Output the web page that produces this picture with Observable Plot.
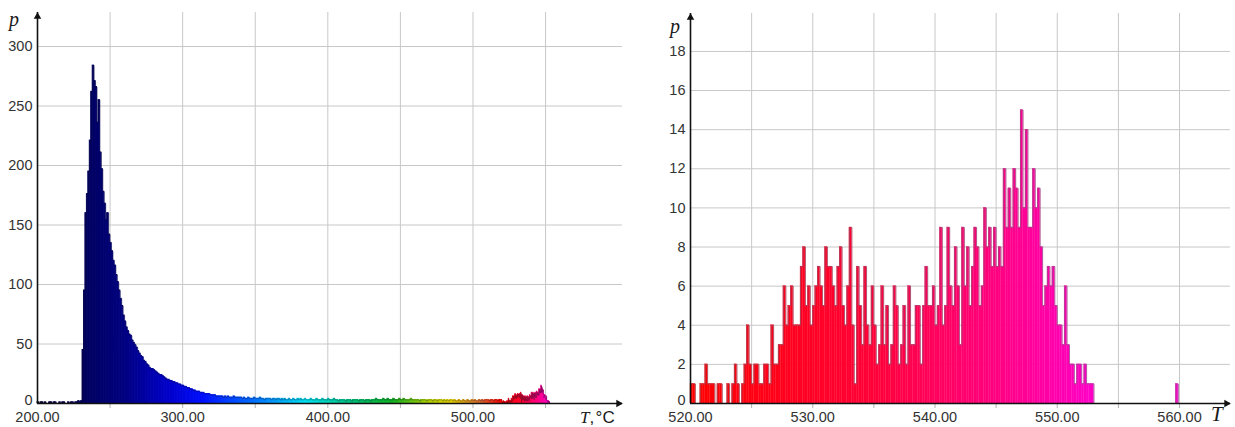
<!DOCTYPE html>
<html><head><meta charset="utf-8">
<script src="https://cdn.jsdelivr.net/npm/d3@7"></script>
<script src="https://cdn.jsdelivr.net/npm/@observablehq/plot@0.6"></script>
<style>
body{margin:0;background:#fff;}
#wrap{position:relative;width:1235px;height:427px;overflow:hidden;font-family:"Liberation Sans",Arial,sans-serif;background:#fff;}
#left{position:absolute;left:0;top:0;}
#right{position:absolute;left:640px;top:0;}
#frame{position:absolute;left:657px;top:9px;width:600px;height:440px;border-top:2px solid #ececec;border-left:2px solid #ececec;}
.lab{position:absolute;color:#1a1a1a;white-space:nowrap;line-height:1;}
.it{font-family:"Liberation Serif","DejaVu Serif",serif;font-style:italic;}
</style></head><body>
<div id="wrap">
<div id="frame"></div>
<div id="left"></div>
<div id="right"></div>
<div class="lab it" style="left:9px;top:9px;font-size:20px;">p</div>
<div class="lab it" style="left:670px;top:16px;font-size:20px;">p</div>
<div class="lab" style="left:580px;top:409px;font-size:17px;"><span class="it">T</span>,&#8202;°C</div>
<div class="lab it" style="left:1211px;top:404px;font-size:21px;">T</div>
</div>
<script>
// ---------- data ----------
// left panel: 1-degree bins starting at 200 °C
const LEFT_T0 = 200, LEFT_BIN = 1;
const leftPre = [1,0,1,1,0,1,0,0,1,1,0,1,1,0,0,1,0,1,1,0,0,1,0,1,1,0,1,1,2,1]; // 200-229
const leftPeak = [ // 230-299
  2,45,95,160,176,195,221,262,284,271,
  266,236,255,211,197,178,168,154,160,142,
  135,128,120,116,108,102,95,88,82,74,
  69,64,61,58,57,53,51,49,47,44,
  42,40,39,36,35,33,32,30,29,29,
  28,27,26,25,24,24,23,22,21,20,
  20,19,19,18,18,17,17,16,16,15];
const leftTail = [ // 300-519
  15,14,14,13,13,12,12,11,11,10,
  10,10,9,9,9,8,8,8,8,7,
  7,7,7,6,6,6,6,6,5,6,
  5,6,5,5,5,6,5,5,5,5,
  5,4,5,4,4,5,4,4,4,5,
  4,4,4,5,4,4,3,4,4,4,
  4,3,4,4,3,4,4,3,4,3,
  4,3,3,4,3,3,4,3,3,4,
  3,4,3,3,4,3,3,3,4,3,
  3,3,4,3,3,3,4,3,3,3,
  4,3,3,3,4,3,3,2,3,3,
  3,3,2,3,3,3,2,3,3,3,
  3,2,3,3,3,2,3,3,3,2,
  3,3,3,4,3,3,3,3,4,3,
  3,4,3,3,3,4,3,3,3,4,
  3,3,4,3,3,3,3,4,3,3,
  3,3,3,2,3,3,3,3,2,3,
  3,3,2,3,3,2,3,3,3,2,
  3,2,3,2,3,3,2,3,2,2,
  3,2,2,3,2,2,3,2,2,3,
  2,3,2,2,3,2,3,2,3,3,
  3,2,3,3,2,3,3,2,3,3];
// zoomed range: 0.2-degree bins from 520 °C
const ZOOM_T0 = 520, ZOOM_BIN = 0.2;
const zoomCounts = [
  1,1,0,0,1,  1,2,1,1,1,  0,1,1,0,0,  1,0,1,2,1,  0,1,2,4,2,
  1,2,2,1,1,  2,2,1,4,2,  2,3,3,6,4,  5,6,4,4,4,  7,8,5,6,4,
  5,6,7,6,5,  8,7,7,6,5,  7,8,5,4,6,  9,4,1,7,5,  3,7,4,3,6,
  4,2,3,6,3,  5,2,3,6,5,  2,3,5,2,6,  3,3,5,5,2,  5,7,5,5,6,
  4,5,9,4,5,  9,6,5,8,6,  3,9,6,8,5,  7,9,8,5,6,  10,8,9,7,9,
  7,8,7,12,9, 11,9,12,11,9, 15,10,14,9,9, 12,10,11,8,5, 6,7,6,7,5,
  4,4,3,6,3,  2,2,1,2,2,  1,2,1,1,1];
const outlierT = [559.7];
const outlierCounts = [1];

// axes / ticks
const leftX = [200, 603], leftY = [0, 328.6];
const leftGridX = [250, 300, 350, 400, 450, 500, 550];
const leftLabelX = [200, 300, 400, 500];
const leftGridY = [50, 100, 150, 200, 250, 300];
const leftLabelY = [0, 50, 100, 150, 200, 250, 300];
const rightX = [520, 564.17], rightY = [0, 19.94];
const rightGridX = [525, 530, 535, 540, 545, 550, 555, 560];
const rightLabelX = [520, 530, 540, 550, 560];
const rightGridY = [2, 4, 6, 8, 10, 12, 14, 16, 18];
const rightLabelY = [0, 2, 4, 6, 8, 10, 12, 14, 16, 18];

// temperature colour map
const COLOR_T = [200, 230, 260, 290, 315, 350, 385, 420, 445, 470, 485, 505, 520, 535, 545, 553];
const COLOR_HEX = ["#000030","#00005a","#000080","#0000c8","#0010ff","#0070ff","#00e0f0","#00c070","#10b020","#b0d000","#e8d800","#e07030","#ff0000","#ff0038","#ff0080","#ff00c8"];

// ---------- build ----------
const colorAt = d3.scaleLinear().domain(COLOR_T).range(COLOR_HEX).interpolate(d3.interpolateRgb).clamp(true);

function bins(t0, w, counts) {
  return counts.map((p, i) => ({x0: t0 + i * w, x1: t0 + (i + 1) * w, p}));
}
function outline(b) {
  const segs = [];
  b.forEach((d, i) => {
    const prevAdj = i > 0 && Math.abs(b[i - 1].x1 - d.x0) < 1e-6;
    const prev = prevAdj ? b[i - 1].p : 0;
    if (prev !== d.p) segs.push({x1: d.x0, x2: d.x0, y1: prev, y2: d.p, t: d.x0});
    if (d.p > 0) segs.push({x1: d.x0, x2: d.x1, y1: d.p, y2: d.p, t: (d.x0 + d.x1) / 2});
    const nextAdj = i < b.length - 1 && Math.abs(b[i + 1].x0 - d.x1) < 1e-6;
    if (!nextAdj && d.p > 0) segs.push({x1: d.x1, x2: d.x1, y1: d.p, y2: 0, t: d.x1});
  });
  return segs;
}

const zoomBins = bins(ZOOM_T0, ZOOM_BIN, zoomCounts);
const outBins = outlierT.map((t, i) => ({x0: t, x1: t + ZOOM_BIN, p: outlierCounts[i]}));
const leftBins = bins(LEFT_T0, LEFT_BIN, leftPre.concat(leftPeak, leftTail)).concat(zoomBins);
const rightBins = zoomBins.concat(outBins);

const fmt = d3.format(".2f");
const baseStyle = {fontFamily: "Liberation Sans, Arial, sans-serif", fontSize: "14.5px", color: "#333", background: "#fff", overflow: "visible"};

function panel({width, ml, mr, mt, xd, yd, gx, gy, lx, ly, data, lw, edge, mix, sw}) {
  const edgeOf = t => d3.interpolateRgb(colorAt(t), edge)(mix);
  return Plot.plot({
    width, height: 427, marginLeft: ml, marginRight: mr, marginTop: mt, marginBottom: 24,
    x: {domain: xd, label: null}, y: {domain: yd, label: null},
    color: {type: "identity"},
    style: baseStyle,
    marks: [
      Plot.gridX(gx, {stroke: "#c8c8c8", strokeOpacity: 1, strokeWidth: 1}),
      Plot.gridY(gy, {stroke: "#c8c8c8", strokeOpacity: 1, strokeWidth: 1}),
      Plot.rect(data.filter(d => d.p > 0), {x1: "x0", x2: "x1", y1: 0, y2: "p",
        fill: d => colorAt((d.x0 + d.x1) / 2), stroke: d => colorAt((d.x0 + d.x1) / 2), strokeWidth: sw}),
      Plot.link(outline(data), {x1: "x1", x2: "x2", y1: "y1", y2: "y2",
        stroke: d => edgeOf(d.t), strokeWidth: lw}),
      Plot.axisX(gx, {tickSize: 5, tickFormat: () => "", stroke: "#b0b0b0"}),
      Plot.axisX(lx, {tickSize: 0, tickPadding: 8, tickFormat: fmt, fill: "#333", fontSize: 14.5}),
      Plot.axisY(ly.filter(v => v !== 0), {tickSize: 0, tickPadding: 5, fill: "#333", fontSize: 14.5}),
      Plot.axisY([0], {tickSize: 0, tickPadding: 5, fill: "#333", fontSize: 14.5, dy: -3}),
      Plot.ruleY([0], {stroke: "#111", strokeWidth: 1.6}),
      Plot.ruleX([xd[0]], {stroke: "#111", strokeWidth: 1.6}),
      Plot.dot([xd[1]], {x: d => d, y: 0, symbol: "triangle", rotate: 90, r: 2.8, fill: "#111", stroke: "none", dx: -4}),
      Plot.dot([yd[1]], {x: xd[0], y: d => d, symbol: "triangle", r: 2.8, fill: "#111", stroke: "none", dy: 4})
    ]
  });
}

document.getElementById("left").append(panel({
  width: 640, ml: 37, mr: 18, mt: 12, xd: leftX, yd: leftY,
  gx: leftGridX, gy: leftGridY, lx: leftLabelX, ly: leftLabelY,
  data: leftBins, lw: 0.6, edge: "#101028", mix: 0.5, sw: 0.9
}));
document.getElementById("right").append(panel({
  width: 595, ml: 50, mr: 5, mt: 13, xd: rightX, yd: rightY,
  gx: rightGridX, gy: rightGridY, lx: rightLabelX, ly: rightLabelY,
  data: rightBins, lw: 0.9, edge: "#707080", mix: 0.6, sw: 0.3
}));
</script>
</body></html>
